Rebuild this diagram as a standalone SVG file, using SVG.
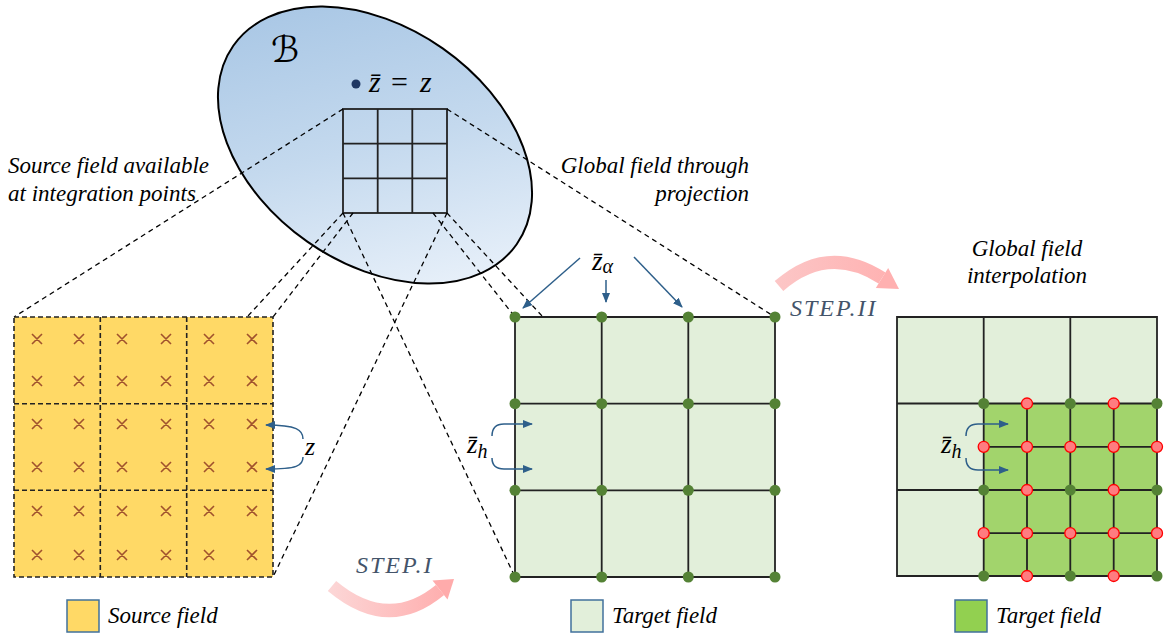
<svg xmlns="http://www.w3.org/2000/svg" width="1166" height="636" viewBox="0 0 1166 636">
<style>
.lbl{font-family:"Liberation Serif","DejaVu Serif",serif;font-style:italic;font-size:23px;fill:#000}
.math{font-family:"Liberation Serif","DejaVu Serif",serif;font-style:italic;fill:#000}
.step{font-family:"Liberation Serif","DejaVu Serif",serif;font-style:italic;font-size:24px;fill:#44546a;letter-spacing:2px}
.dash{stroke:#000;stroke-width:1.3;stroke-dasharray:5 4;fill:none}
.sgrid{stroke:#222;stroke-width:1.6;stroke-dasharray:5 3;fill:none}
.grid{stroke:#222;stroke-width:1.8;fill:none}
.gn{fill:#548235}
.rn{fill:#ff7c80;stroke:#ff0000;stroke-width:1.3}
.bl{stroke:#2e5f8a;stroke-width:1.5;fill:none;marker-end:url(#ah)}
.x{stroke:#a0522d;stroke-width:1.6;fill:none}
.leg{stroke:#41719c;stroke-width:1.5}
</style>
<defs>
<linearGradient id="eg" x1="0" y1="0.2" x2="1" y2="0.8">
<stop offset="0" stop-color="#a6c5e4"/>
<stop offset="0.5" stop-color="#c4d9ee"/>
<stop offset="1" stop-color="#ecf3fb"/>
</linearGradient>
<linearGradient id="pk1" gradientUnits="userSpaceOnUse" x1="330" y1="0" x2="456" y2="0">
<stop offset="0" stop-color="#fcd6d6"/>
<stop offset="1" stop-color="#ffabab"/>
</linearGradient>
<linearGradient id="pk2" gradientUnits="userSpaceOnUse" x1="776" y1="0" x2="900" y2="0">
<stop offset="0" stop-color="#fcc6c6"/>
<stop offset="1" stop-color="#ffb0b0"/>
</linearGradient>
<marker id="ah" markerUnits="userSpaceOnUse" markerWidth="10" markerHeight="8" refX="9" refY="4" orient="auto">
<path d="M0,0 L10,4 L0,8 z" fill="#2e5f8a"/>
</marker>
</defs>

<g id="domain">
<ellipse cx="375" cy="145" rx="173" ry="118" transform="rotate(35 375 145)" fill="url(#eg)" stroke="#000" stroke-width="2"/>
<text x="271" y="62" font-family="DejaVu Serif, DejaVu Sans, serif" font-size="36" font-style="italic">ℬ</text>
<circle cx="356" cy="84" r="4.5" fill="#1f3864"/>
<text class="math" x="369" y="92" font-size="30">z̄</text>
<text x="391" y="92" font-family="Liberation Serif, serif" font-size="30">=</text>
<text class="math" x="420" y="92" font-size="30">z</text>
<g id="domain-grid" class="grid" stroke="#000">
<rect x="343" y="109" width="104" height="104"/>
<path d="M377.7 109V213M412.3 109V213M343 143.7H447M343 178.3H447"/>
</g>
</g>

<g id="connectors">
<path class="dash" d="M343 109L14 317"/>
<path class="dash" d="M343 213L247 317"/>
<path class="dash" d="M353 213L273 317"/>
<path class="dash" d="M343 213L515 577"/>
<path class="dash" d="M447 213L273 577"/>
<path class="dash" d="M433 213L515 317"/>
<path class="dash" d="M447 213L543 317"/>
<path class="dash" d="M447 109L775 317"/>
</g>

<g id="source-grid">
<rect x="14" y="317" width="259" height="260" fill="#ffd966"/>
<path class="sgrid" d="M14 317H273V577H14Z M100.3 317V577M186.7 317V577M14 403.7H273M14 490.3H273"/>
<path class="x" d="M32 334l10 10m0-10l-10 10M74 334l10 10m0-10l-10 10M117 334l10 10m0-10l-10 10M161 334l10 10m0-10l-10 10M204 334l10 10m0-10l-10 10M247 334l10 10m0-10l-10 10
M32 376l10 10m0-10l-10 10M74 376l10 10m0-10l-10 10M117 376l10 10m0-10l-10 10M161 376l10 10m0-10l-10 10M204 376l10 10m0-10l-10 10M247 376l10 10m0-10l-10 10
M32 419l10 10m0-10l-10 10M74 419l10 10m0-10l-10 10M117 419l10 10m0-10l-10 10M161 419l10 10m0-10l-10 10M204 419l10 10m0-10l-10 10M247 419l10 10m0-10l-10 10
M32 462l10 10m0-10l-10 10M74 462l10 10m0-10l-10 10M117 462l10 10m0-10l-10 10M161 462l10 10m0-10l-10 10M204 462l10 10m0-10l-10 10M247 462l10 10m0-10l-10 10
M32 506l10 10m0-10l-10 10M74 506l10 10m0-10l-10 10M117 506l10 10m0-10l-10 10M161 506l10 10m0-10l-10 10M204 506l10 10m0-10l-10 10M247 506l10 10m0-10l-10 10
M32 550l10 10m0-10l-10 10M74 550l10 10m0-10l-10 10M117 550l10 10m0-10l-10 10M161 550l10 10m0-10l-10 10M204 550l10 10m0-10l-10 10M247 550l10 10m0-10l-10 10"/>
<path class="bl" d="M303 439C303 430 297 425 266 425"/>
<path class="bl" d="M303 457C303 466 297 469 266 469"/>
<text class="math" x="305" y="455" font-size="26">z</text>
</g>

<g id="target-grid">
<rect x="515" y="317" width="260" height="260" fill="#e2efda"/>
<path class="grid" d="M515 317H775V577H515Z M601.7 317V577M688.3 317V577M515 403.7H775M515 490.3H775"/>
<g class="gn">
<circle cx="515" cy="317" r="5.5"/><circle cx="601.7" cy="317" r="5.5"/><circle cx="688.3" cy="317" r="5.5"/><circle cx="775" cy="317" r="5.5"/>
<circle cx="515" cy="403.7" r="5.5"/><circle cx="601.7" cy="403.7" r="5.5"/><circle cx="688.3" cy="403.7" r="5.5"/><circle cx="775" cy="403.7" r="5.5"/>
<circle cx="515" cy="490.3" r="5.5"/><circle cx="601.7" cy="490.3" r="5.5"/><circle cx="688.3" cy="490.3" r="5.5"/><circle cx="775" cy="490.3" r="5.5"/>
<circle cx="515" cy="577" r="5.5"/><circle cx="601.7" cy="577" r="5.5"/><circle cx="688.3" cy="577" r="5.5"/><circle cx="775" cy="577" r="5.5"/>
</g>
<text class="math" x="592" y="270" font-size="27">z̄<tspan font-size="20" dy="3">α</tspan></text>
<path class="bl" d="M580 258L523 308"/>
<path class="bl" d="M606 280L606 302"/>
<path class="bl" d="M634 257L682 307"/>
<text class="math" x="467" y="453" font-size="27">z̄<tspan font-size="20" dy="5">h</tspan></text>
<path class="bl" d="M492 436C492 428 496 424 504 424L532 424"/>
<path class="bl" d="M492 458C492 466 496 469 504 469L532 469"/>
</g>

<g id="interp-grid">
<rect x="897" y="317" width="260" height="259" fill="#e2efda"/>
<rect x="983.7" y="403.5" width="173.3" height="172.5" fill="#a2d46c"/>
<path class="grid" stroke-width="1.6" d="M897 317H1157V576H897Z M983.7 317V576M1070.3 317V576M897 403.5H1157M897 490H1157 M1027 403.5V576M1113.7 403.5V576M983.7 446.8H1157M983.7 533.2H1157"/>
<g class="gn">
<circle cx="983.7" cy="403.5" r="5.5"/><circle cx="1070.3" cy="403.5" r="5.5"/><circle cx="1157" cy="403.5" r="5.5"/>
<circle cx="983.7" cy="490" r="5.5"/><circle cx="1070.3" cy="490" r="5.5"/><circle cx="1157" cy="490" r="5.5"/>
<circle cx="983.7" cy="576" r="5.5"/><circle cx="1070.3" cy="576" r="5.5"/><circle cx="1157" cy="576" r="5.5"/>
</g>
<g class="rn">
<circle cx="1027" cy="403.5" r="5.5"/><circle cx="1113.7" cy="403.5" r="5.5"/>
<circle cx="983.7" cy="446.8" r="5.5"/><circle cx="1027" cy="446.8" r="5.5"/><circle cx="1070.3" cy="446.8" r="5.5"/><circle cx="1113.7" cy="446.8" r="5.5"/><circle cx="1157" cy="446.8" r="5.5"/>
<circle cx="1027" cy="490" r="5.5"/><circle cx="1113.7" cy="490" r="5.5"/>
<circle cx="983.7" cy="533.2" r="5.5"/><circle cx="1027" cy="533.2" r="5.5"/><circle cx="1070.3" cy="533.2" r="5.5"/><circle cx="1113.7" cy="533.2" r="5.5"/><circle cx="1157" cy="533.2" r="5.5"/>
<circle cx="1027" cy="576" r="5.5"/><circle cx="1113.7" cy="576" r="5.5"/>
</g>
<text class="math" x="941" y="453" font-size="27">z̄<tspan font-size="20" dy="5">h</tspan></text>
<path class="bl" d="M966 436C966 428 970 424 978 424L1008 424"/>
<path class="bl" d="M966 458C966 466 970 470 978 470L1008 470"/>
</g>

<g id="labels">
<text class="lbl" x="8" y="173">Source field available</text>
<text class="lbl" x="8" y="201">at integration points</text>
<text class="lbl" x="749" y="173" text-anchor="end">Global field through</text>
<text class="lbl" x="749" y="201" text-anchor="end">projection</text>
<text class="lbl" x="1027" y="256" text-anchor="middle">Global field</text>
<text class="lbl" x="1027" y="283" text-anchor="middle">interpolation</text>
</g>

<g id="step1">
<path d="M332 586Q388 633 440 590" stroke="url(#pk1)" stroke-width="13" fill="none"/>
<polygon points="454,579 447.5,599.5 432.5,580.5" fill="#ffabab"/>
<text class="step" x="356" y="573">STEP.I</text>
</g>

<g id="step2">
<path d="M779 286Q828 243 882 278" stroke="url(#pk2)" stroke-width="13" fill="none"/>
<polygon points="899,289 875.8,288 888.2,268" fill="#ffb0b0"/>
<text class="step" x="790" y="316">STEP.II</text>
</g>

<g id="legend-source">
<rect class="leg" x="67" y="600" width="32" height="32" fill="#ffd966"/>
<text class="lbl" x="108" y="623">Source field</text>
</g>
<g id="legend-target">
<rect class="leg" x="571" y="600" width="32" height="32" fill="#e2efda"/>
<text class="lbl" x="612" y="623">Target field</text>
</g>
<g id="legend-interp">
<rect class="leg" x="955" y="600" width="32" height="32" fill="#92d050"/>
<text class="lbl" x="996" y="623">Target field</text>
</g>
</svg>
